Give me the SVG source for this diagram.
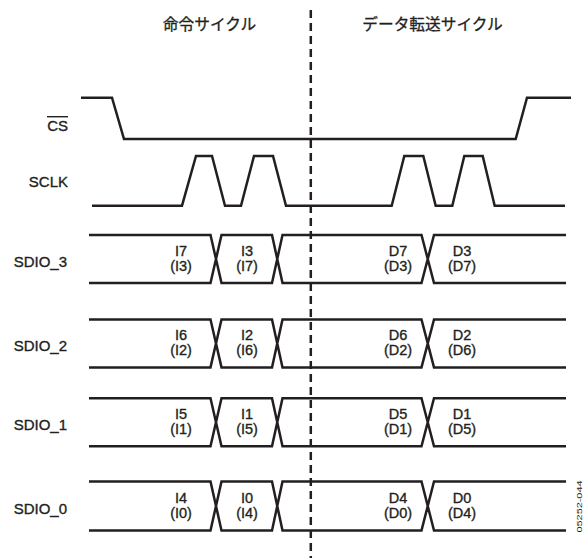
<svg xmlns="http://www.w3.org/2000/svg" width="583" height="558" viewBox="0 0 583 558">
<style>
.w{fill:none;stroke:#231f20;stroke-width:2.5;stroke-linejoin:miter}
.t{font-family:"Liberation Sans",Arial,sans-serif;fill:#231f20;stroke:#231f20;stroke-width:0.35}
.sig{font-size:15px;text-anchor:end}
.lb{font-size:14.5px;text-anchor:middle}
.jp{font-family:"Noto Sans CJK JP","Noto Sans",sans-serif;font-size:15.7px;fill:#231f20;stroke:#231f20;stroke-width:0.3;text-anchor:middle}
</style>
<rect width="583" height="558" fill="#fff"/>
<g id="titles">
<text class="jp" x="209.5" y="30">命令サイクル</text>
<text class="jp" x="432.5" y="30">データ転送サイクル</text>
</g>
<g id="connectors">
<line x1="310.8" y1="10" x2="310.8" y2="558" stroke="#231f20" stroke-width="2.5" stroke-dasharray="8 5"/>
</g>
<g id="cs">
<text class="t sig" x="68" y="130.7">CS</text>
<line x1="47" y1="116.7" x2="68" y2="116.7" stroke="#231f20" stroke-width="1.4"/>
<path class="w" d="M81,97.7 H112 L124,139 H515.7 L527,97.7 H571"/>
</g>
<g id="sclk">
<text class="t sig" x="68" y="187.3">SCLK</text>
<path class="w" d="M92,205.7 H182 L196,156 H212 L225,205.7 H241 L254,156 H273 L286,205.7 H391.7 L404.3,156 H423.3 L435.7,205.7 H452.3 L464.3,156 H482.7 L494.7,205.7 H565"/>
</g>
<g id="sdio3">
<text class="t sig" x="67" y="267">SDIO_3</text>
<path class="w" d="M89,235 H210.5 L221.5,283 H272 L282.5,235 H421.5 L434,283 H566 M89,283 H210.5 L221.5,235 H272 L282.5,283 H421.5 L434,235 H566"/>
<text class="t lb" x="181" y="256">I7</text><text class="t lb" x="181" y="271">(I3)</text>
<text class="t lb" x="247" y="256">I3</text><text class="t lb" x="247" y="271">(I7)</text>
<text class="t lb" x="398" y="256">D7</text><text class="t lb" x="398" y="271">(D3)</text>
<text class="t lb" x="462" y="256">D3</text><text class="t lb" x="462" y="271">(D7)</text>
</g>
<g id="sdio2">
<text class="t sig" x="67" y="351">SDIO_2</text>
<path class="w" d="M89,319.4 H210.5 L221.5,367.4 H272 L282.5,319.4 H421.5 L434,367.4 H566 M89,367.4 H210.5 L221.5,319.4 H272 L282.5,367.4 H421.5 L434,319.4 H566"/>
<text class="t lb" x="181" y="340.4">I6</text><text class="t lb" x="181" y="355.4">(I2)</text>
<text class="t lb" x="247" y="340.4">I2</text><text class="t lb" x="247" y="355.4">(I6)</text>
<text class="t lb" x="398" y="340.4">D6</text><text class="t lb" x="398" y="355.4">(D2)</text>
<text class="t lb" x="462" y="340.4">D2</text><text class="t lb" x="462" y="355.4">(D6)</text>
</g>
<g id="sdio1">
<text class="t sig" x="67" y="430">SDIO_1</text>
<path class="w" d="M89,398.3 H210.5 L221.5,446.3 H272 L282.5,398.3 H421.5 L434,446.3 H566 M89,446.3 H210.5 L221.5,398.3 H272 L282.5,446.3 H421.5 L434,398.3 H566"/>
<text class="t lb" x="181" y="419.3">I5</text><text class="t lb" x="181" y="434.3">(I1)</text>
<text class="t lb" x="247" y="419.3">I1</text><text class="t lb" x="247" y="434.3">(I5)</text>
<text class="t lb" x="398" y="419.3">D5</text><text class="t lb" x="398" y="434.3">(D1)</text>
<text class="t lb" x="462" y="419.3">D1</text><text class="t lb" x="462" y="434.3">(D5)</text>
</g>
<g id="sdio0">
<text class="t sig" x="67" y="513.5">SDIO_0</text>
<path class="w" d="M89,481.5 H210.5 L221.5,530.5 H272 L282.5,481.5 H421.5 L434,530.5 H566 M89,530.5 H210.5 L221.5,481.5 H272 L282.5,530.5 H421.5 L434,481.5 H566"/>
<text class="t lb" x="181" y="502.5">I4</text><text class="t lb" x="181" y="517.5">(I0)</text>
<text class="t lb" x="247" y="502.5">I0</text><text class="t lb" x="247" y="517.5">(I4)</text>
<text class="t lb" x="398" y="502.5">D4</text><text class="t lb" x="398" y="517.5">(D0)</text>
<text class="t lb" x="462" y="502.5">D0</text><text class="t lb" x="462" y="517.5">(D4)</text>
</g>
<g id="figid">
<text font-family="Liberation Sans,Arial,sans-serif" fill="#231f20" font-size="8" text-anchor="middle" textLength="52" lengthAdjust="spacingAndGlyphs" transform="translate(582,506.5) rotate(-90)">05252-044</text>
</g>
</svg>
